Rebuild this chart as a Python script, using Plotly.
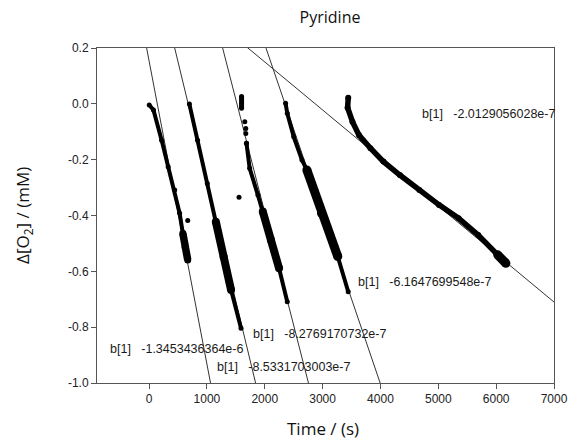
import plotly.graph_objects as go

# ---------------- data ----------------
seg1_t = [3, 76, 217, 330, 443, 528, 584, 623, 668]
seg1_y = [-0.004, -0.022, -0.130, -0.225, -0.309, -0.392, -0.464, -0.512, -0.559]

seg2_t = [697, 838, 1007, 1154, 1289, 1418, 1590]
seg2_y = [-0.001, -0.130, -0.285, -0.422, -0.548, -0.667, -0.804]

seg3_t = [1599, 1599, 1655, 1672, 1672, 1684, 1739, 1882, 1966, 2107, 2247, 2389]
seg3_y = [0.026, -0.016, -0.064, -0.088, -0.106, -0.141, -0.231, -0.327, -0.386, -0.488, -0.589, -0.709]

seg4_t = [2360, 2389, 2501, 2643, 2728, 2981, 3262, 3443]
seg4_y = [0.002, -0.034, -0.118, -0.201, -0.237, -0.392, -0.547, -0.673]

seg5_t = [3443, 3432, 3516, 3629, 3827, 4052, 4335, 4673, 5012, 5350, 5689, 6027, 6168]
seg5_y = [0.022, -0.014, -0.064, -0.112, -0.159, -0.207, -0.255, -0.309, -0.362, -0.410, -0.470, -0.541, -0.571]

outlier_t = [668, 1555]
outlier_y = [-0.418, -0.335]

# linear fits: y = b0 + b1 * t  (b1 in mM/s)
fit_b0 = [0.154, 0.580, 1.229, 1.429, 0.494]
fit_b1 = [-1.086e-3, -8.58e-4, -8.09e-4, -6.08e-4, -1.72e-4]

fit_labels = ["-1.3453436364e-6", "-8.5331703003e-7", "-8.2769170732e-7",
              "-6.1647699548e-7", "-2.0129056028e-7"]
label_t = [-708, 1132, 1759, 3580, 4686]
label_y = [-0.878, -0.943, -0.824, -0.638, -0.036]

x_ticks = [0, 1000, 2000, 3000, 4000, 5000, 6000, 7000]
x_ticktext = ["0", "1000", "2000", "3000", "4000", "5000", "6000", "7000"]
y_ticks = [0.2, 0.0, -0.2, -0.4, -0.6, -0.8, -1.0]
y_ticktext = ["0.2", "0.0", "-0.2", "-0.4", "-0.6", "-0.8", "-1.0"]

X_RANGE = [-900, 7000]
Y_RANGE = [-1.0, 0.2]

# ---------------- figure ----------------
fig = go.Figure()

# fit lines
for b0, b1 in zip(fit_b0, fit_b1):
    xs = [X_RANGE[0], X_RANGE[1]]
    ys = [b0 + b1 * x for x in xs]
    fig.add_trace(go.Scatter(x=xs, y=ys, mode="lines",
                             line=dict(color="#333333", width=1),
                             hoverinfo="skip", showlegend=False))

BLACK = "#000000"

def band(t, y, width, msize):
    fig.add_trace(go.Scatter(x=t, y=y, mode="lines+markers",
                             line=dict(color=BLACK, width=width),
                             marker=dict(color=BLACK, size=msize),
                             showlegend=False))

# segment 1
band(seg1_t, seg1_y, 4, 5)
band(seg1_t[6:], seg1_y[6:], 7.5, 7)
# segment 2
band(seg2_t, seg2_y, 4, 5)
band(seg2_t[3:6], seg2_y[3:6], 8, 8)
# segment 3: dotted start (markers only) then band
fig.add_trace(go.Scatter(x=seg3_t[:6], y=seg3_y[:6], mode="markers",
                         marker=dict(color=BLACK, size=5), showlegend=False))
fig.add_trace(go.Scatter(x=seg3_t[:2], y=seg3_y[:2], mode="lines",
                         line=dict(color=BLACK, width=5), showlegend=False))
band(seg3_t[5:], seg3_y[5:], 4, 5)
band(seg3_t[8:11], seg3_y[8:11], 8, 8)
# segment 4
band(seg4_t, seg4_y, 4, 5)
band(seg4_t[4:7], seg4_y[4:7], 9, 9)
# segment 5
band(seg5_t, seg5_y, 5.5, 6)
band(seg5_t[11:], seg5_y[11:], 9, 9)

# outliers
fig.add_trace(go.Scatter(x=outlier_t, y=outlier_y, mode="markers",
                         marker=dict(color=BLACK, size=5), showlegend=False))

annotations = []
for txt, lt, ly in zip(fit_labels, label_t, label_y):
    annotations.append(dict(x=lt, y=ly, xref="x", yref="y",
                            text="b[1]\u00a0\u00a0\u00a0" + txt,
                            showarrow=False, xanchor="left", yanchor="middle",
                            font=dict(family="Arial", size=12.5, color="#1a1a1a")))

# axis titles
annotations.append(dict(x=(22 - 97) / 466, y=0.5, xref="paper", yref="paper",
                        text="Δ[O<sub>2</sub>] / (mM)", textangle=-90, showarrow=False,
                        xanchor="center", yanchor="middle",
                        font=dict(family="Open Sans", size=17, color="#111111")))
annotations.append(dict(x=(327 - 97) / 466, y=-(428 - 383) / 335, xref="paper", yref="paper",
                        text="Time / (s)", showarrow=False,
                        xanchor="center", yanchor="middle",
                        font=dict(family="Open Sans", size=17, color="#111111")))

axis_common = dict(showline=True, linecolor="#555555", linewidth=1, mirror=True,
                   ticks="outside", ticklen=5, tickcolor="#555555", tickwidth=1,
                   showgrid=False, zeroline=False,
                   tickfont=dict(family="Arial", size=12, color="#222222"))

fig.update_layout(
    width=580, height=445,
    margin=dict(l=97, r=17, t=48, b=62),
    paper_bgcolor="white", plot_bgcolor="white",
    title=dict(text="Pyridine", x=(330) / 580, xanchor="center",
               y=1 - 17 / 445, yanchor="middle",
               font=dict(family="Open Sans", size=16, color="#111111")),
    xaxis=dict(range=X_RANGE, tickvals=x_ticks, ticktext=x_ticktext, **axis_common),
    yaxis=dict(range=Y_RANGE, tickvals=y_ticks, ticktext=y_ticktext, **axis_common),
    annotations=annotations,
    showlegend=False,
)

fig.write_html("out.html")
